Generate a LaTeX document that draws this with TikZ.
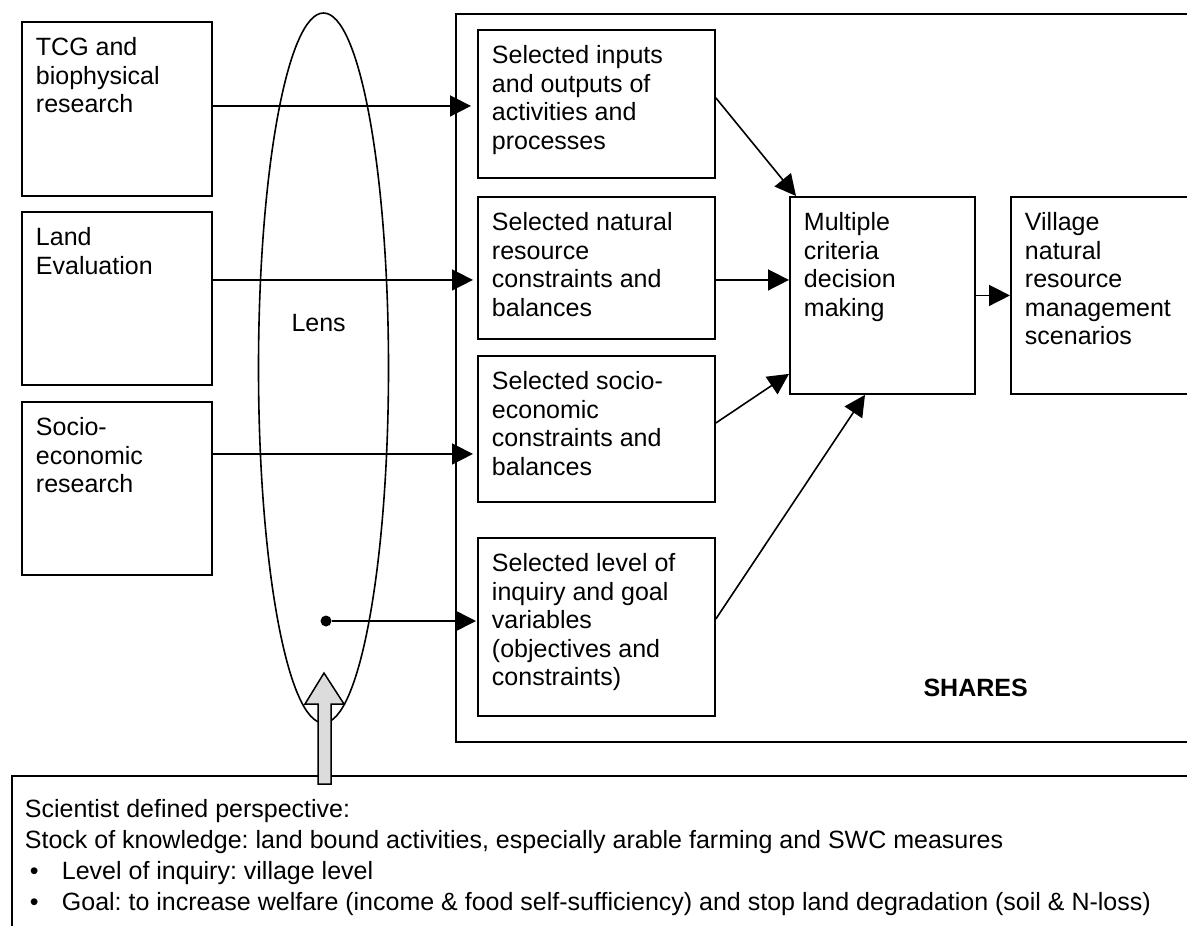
\documentclass[tikz,border=0pt]{standalone}
\usepackage{fontspec}
\setmainfont{Liberation Sans}
\usetikzlibrary{shapes.geometric,arrows.meta,calc}
\frenchspacing
% text block anchored at the top of a box: width, height, text
\newcommand{\bxt}[3]{\parbox[t][#2][t]{#1}{\raggedright\strut #3}}
\begin{document}
\begin{tikzpicture}[x=1pt,y=-1pt,
  font=\fontsize{25}{28.5}\selectfont,
  stepbox/.style={draw, line width=1.9pt, rectangle, inner sep=14pt, anchor=north west, fill=white},
  conn/.style={line width=1.6pt, -{Triangle[length=21pt,width=21pt]}},
]
\useasboundingbox (0,0) rectangle (1187,926);

% outer SHARES frame
\node[draw, line width=1.9pt, anchor=north west, minimum width=800pt, minimum height=728pt, inner sep=0pt] (shares) at (455,13) {};
\node[anchor=west, font=\bfseries\fontsize{25}{28.5}\selectfont] (sharesl) at (920,688) {SHARES};

% lens
\node[draw, ellipse, line width=1.6pt, minimum width=130pt, minimum height=710pt, inner sep=0pt] (lens) at (323.5,368) {};
\node[anchor=base west] (lensl) at (288,331) {Lens};
\node[circle, fill, inner sep=0pt, minimum size=11pt] (dot) at (326,621) {};

% research sources
\node[stepbox] (tcg) at (21,21) {\bxt{162pt}{146pt}{TCG and\\biophysical\\research}};
\node[stepbox] (land) at (21,211) {\bxt{162pt}{145pt}{Land\\Evaluation}};
\node[stepbox] (socio) at (21,401) {\bxt{162pt}{145pt}{Socio-\\economic\\research}};

% selected elements
\node[stepbox] (b1) at (477,29) {\bxt{209pt}{120pt}{Selected inputs\\and outputs of\\activities and\\processes}};
\node[stepbox] (b2) at (477,196) {\bxt{209pt}{114pt}{Selected natural\\resource\\constraints and\\balances}};
\node[stepbox] (b3) at (477,355) {\bxt{209pt}{118pt}{Selected socio-\\economic\\constraints and\\balances}};
\node[stepbox] (b4) at (477,537) {\bxt{209pt}{150pt}{Selected level of\\inquiry and goal\\variables\\(objectives and\\constraints)}};

% decision making and results
\node[stepbox] (mc) at (789,196) {\bxt{157pt}{169pt}{Multiple\\criteria\\decision\\making}};
\node[stepbox] (vil) at (1010,196) {\bxt{222pt}{169pt}{Village\\natural\\resource\\management\\scenarios}};

% connectors through the lens
\draw[conn, shorten >=6pt] ([yshift=3pt]tcg.east) -- ([yshift=3pt]tcg.east -| b1.west);
\draw[conn, shorten >=4pt] ([yshift=18.5pt]land.east) -- ([yshift=18.5pt]land.east -| b2.west);
\draw[conn, shorten >=4pt] ([yshift=34.5pt]socio.east) -- ([yshift=34.5pt]socio.east -| b3.west);
\draw[conn, shorten >=1pt] (dot) -- (dot -| b4.west);

% connectors into decision making
\draw[conn] ([yshift=6pt]b1.east) -- ([xshift=7pt]mc.north west);
\draw[conn] ([yshift=-12pt]b2.east) -- ([yshift=-12pt]b2.east -| mc.west);
\draw[conn] ([yshift=6pt]b3.east) -- ([yshift=21pt]mc.south west);
\draw[conn] ([yshift=8pt]b4.east) -- ([xshift=76pt]mc.south west);
\draw[conn] (mc.east) -- (vil.west);

% perspective box
\node[draw, line width=1.9pt, anchor=north west, inner xsep=13pt, inner ysep=19.5pt,
      font=\fontsize{25}{31}\selectfont] (persp) at (11,775)
  {\parbox[t][180pt][t]{1200pt}{\strut Scientist defined perspective:\\
   Stock of knowledge: land bound activities, especially arable farming and SWC measures\\
   \hspace*{5pt}\makebox[32pt][l]{•}Level of inquiry: village level\\
   \hspace*{5pt}\makebox[32pt][l]{•}Goal: to increase welfare (income \& food self-sufficiency) and stop land degradation (soil \& N-loss)}};

% block arrow from the perspective into the lens
\draw[line width=1.5pt, fill={rgb,255:red,220;green,220;blue,220}, line join=miter]
  (324,673) -- (344,704) -- (331,704) -- (331,784) -- (318,784) -- (318,704) -- (305,704) -- cycle;
\end{tikzpicture}
\end{document}
